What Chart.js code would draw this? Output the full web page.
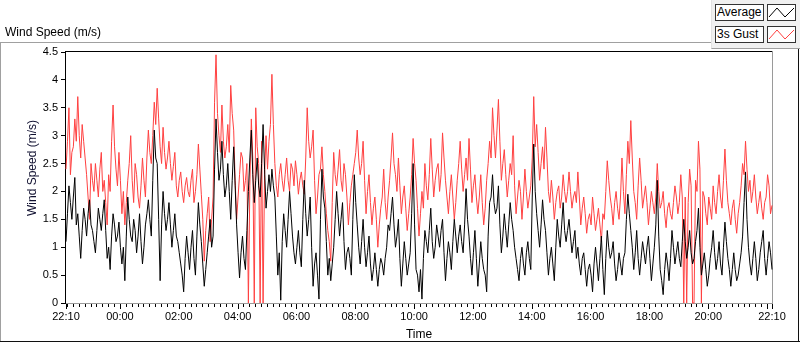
<!DOCTYPE html>
<html>
<head>
<meta charset="utf-8">
<script src="https://cdn.jsdelivr.net/npm/chart.js@4.4.1/dist/chart.umd.min.js"></script>
<style>
body { margin: 0; background: #fff; }
.wrap { position: relative; width: 800px; height: 342px; overflow: hidden; font-family: "Liberation Sans", Arial, sans-serif; color: #000; }
canvas { position: absolute; left: 0; top: 0; }
.title { position: absolute; left: 5px; top: 25px; font-size: 12px; line-height: 14px; white-space: nowrap; }
.panel { position: absolute; left: 711px; top: 0; width: 89px; height: 48px; background: #f0f0f0; border-left: 1px solid #e2e2e2; border-bottom: 1px solid #a0a0a0; }
.lab { position: absolute; left: 715px; width: 46px; height: 15px; border: 1px solid #333; background: #fff; font-size: 12px; line-height: 15px; padding-left: 1px; box-sizing: content-box; white-space: nowrap; }
.ico { position: absolute; left: 767px; width: 27px; height: 15px; border: 1px solid #333; background: #fff; }
.ico svg { display: block; }
</style>
</head>
<body>
<div class="wrap">
  <canvas id="chart" width="800" height="342"></canvas>
  <div class="title">Wind Speed (m/s)</div>
  <div class="panel"></div>
  <div class="lab" style="top:4px">Average</div>
  <div class="ico" style="top:4px"><svg width="27" height="15"><polyline points="1,12 9,3 17,12 26,3" fill="none" stroke="#000" stroke-width="1"/></svg></div>
  <div class="lab" style="top:26px">3s Gust</div>
  <div class="ico" style="top:26px"><svg width="27" height="15"><polyline points="1,12 9,3 17,12 26,3" fill="none" stroke="#ff4040" stroke-width="1"/></svg></div>
</div>
<script>
// one sample every 3 minutes, starting 22:10 (one row = 1 hour)
const stepMinutes = 3;

const avgSpeed = [
  1.1, 1.6, 2.1, 1.8, 1.5, 1.9, 2.25, 1.4, 1.6, 1.2, 0.8, 1.3, 1.7, 1.5, 1.2, 1.6, 1.85, 1.4, 1.3, 1.1,
  0.9, 1.3, 1.7, 1.5, 1.3, 1.6, 1.85, 1.3, 0.8, 1.0, 0.6, 1.2, 1.6, 1.4, 1.1, 1.2, 1.45, 1.0, 0.7, 1.0,
  0.4, 1.2, 1.9, 1.5, 1.2, 1.1, 1.5, 1.3, 0.9, 1.2, 1.6, 1.1, 0.7, 1.0, 1.4, 1.6, 1.85, 1.5, 1.2, 2.2,
  3.1, 2.6, 2.5, 1.5, 0.4, 1.4, 2.0, 1.6, 1.3, 1.5, 1.8, 1.4, 1.0, 1.3, 1.6, 1.2, 1.1, 0.9, 0.7, 0.5,
  0.2, 0.8, 1.2, 0.9, 0.6, 1.0, 1.3, 0.8, 0.5, 1.2, 1.8, 1.4, 1.1, 0.7, 0.3, 0.6, 0.9, 1.2, 1.5, 1.0,
  1.2, 2.4, 3.3, 2.7, 2.2, 2.4, 2.9, 2.3, 1.9, 2.1, 2.5, 2.0, 1.5, 2.2, 2.8, 2.1, 1.4, 0.9, 0.45, 0.9,
  1.2, 0.8, 0.6, 1.3, 2.0, 2.6, 3.1, 2.3, 1.8, 2.2, 2.6, 2.1, 1.9, 2.5, 3.2, 2.4, 1.7, 2.0, 2.3, 2.0,
  2.4, 2.1, 1.9, 1.2, 0.5, 0.9, 0.05, 1.1, 1.6, 1.3, 1.0, 1.5, 2.0, 1.6, 1.2, 0.9, 0.7, 1.0, 1.3, 0.9,
  0.65, 1.5, 2.2, 1.6, 1.2, 1.5, 1.9, 1.0, 0.3, 0.7, 0.9, 0.5, 0.07, 1.5, 2.4, 1.9, 1.7, 1.1, 0.5, 0.8,
  0.4, 0.7, 1.0, 1.5, 2.0, 1.6, 1.2, 1.5, 1.8, 1.1, 0.6, 0.9, 1.0, 0.8, 0.5, 1.5, 2.3, 1.8, 1.4, 1.0,
  0.7, 1.1, 1.5, 1.0, 0.65, 0.9, 1.2, 0.7, 0.4, 0.6, 0.9, 0.6, 0.3, 0.6, 0.8, 0.7, 0.5, 0.8, 1.0, 1.4,
  1.3, 1.6, 1.9, 1.4, 1.0, 1.2, 1.5, 0.8, 0.3, 0.7, 1.1, 0.8, 0.5, 0.7, 0.9, 1.6, 2.5, 1.4, 0.6, 0.5,
  0.2, 0.6, 0.07, 0.8, 1.3, 1.1, 0.9, 1.3, 1.7, 1.1, 0.8, 1.0, 1.4, 1.2, 1.0, 1.3, 1.5, 0.9, 0.4, 0.8,
  1.1, 0.9, 0.6, 1.1, 1.5, 1.2, 0.9, 1.2, 1.4, 1.1, 0.9, 1.4, 2.05, 1.5, 1.2, 0.8, 0.5, 0.9, 1.3, 0.8,
  0.3, 0.7, 1.1, 0.8, 0.6, 0.5, 0.2, 1.2, 1.8, 1.9, 2.3, 1.8, 1.6, 1.7, 2.1, 1.4, 0.9, 1.2, 1.6, 1.3,
  1.0, 1.4, 1.8, 1.5, 1.3, 1.0, 0.8, 0.6, 0.4, 0.8, 1.0, 0.7, 0.5, 0.9, 1.1, 0.8, 0.6, 1.9, 2.85, 2.0,
  1.6, 1.3, 1.0, 1.4, 1.85, 1.5, 1.3, 0.9, 0.5, 0.8, 1.0, 0.7, 0.4, 1.0, 1.5, 1.2, 1.0, 1.4, 1.8, 1.3,
  1.1, 1.3, 1.5, 1.2, 0.9, 1.1, 1.3, 0.8, 1.0, 0.7, 0.5, 0.8, 0.9, 0.6, 0.3, 0.6, 0.7, 0.5, 0.2, 0.7,
  1.0, 0.7, 0.4, 0.8, 1.2, 0.6, 0.15, 0.8, 1.3, 1.0, 0.8, 0.9, 1.1, 0.7, 0.4, 0.6, 0.9, 0.7, 0.5, 0.8,
  0.9, 1.5, 1.95, 1.6, 1.3, 1.0, 0.6, 0.9, 1.3, 0.8, 0.5, 0.8, 1.1, 0.9, 0.7, 1.0, 1.2, 0.8, 0.4, 0.7,
  1.0, 1.4, 2.2, 1.2, 0.6, 0.4, 0.15, 0.6, 0.9, 0.7, 0.4, 0.8, 1.3, 1.0, 0.7, 0.9, 1.1, 0.8, 0.65, 1.1,
  1.5, 1.1, 0.8, 1.0, 1.3, 0.9, 0.7, 0.8, 1.1, 1.3, 1.7, 1.0, 0.5, 0.7, 0.9, 0.6, 0.3, 0.5, 0.8, 1.0,
  1.3, 0.9, 0.6, 0.8, 1.1, 0.7, 0.5, 1.0, 1.45, 1.1, 0.8, 0.6, 0.3, 0.6, 0.9, 0.6, 0.4, 0.5, 0.7, 0.9,
  1.2, 1.8, 2.35, 1.5, 1.0, 0.7, 0.5, 0.8, 1.1, 0.8, 0.4, 0.6, 0.9, 1.1, 1.3, 0.8, 0.5, 0.8, 1.1, 0.9, 0.6
];

const gustSpeed = [
  2.4, 2.9, 3.5, 2.3, 2.7, 2.8, 3.3, 2.9, 3.7, 3.0, 2.6, 3.2, 2.9, 2.6, 2.3, 1.9, 1.5, 2.5, 2.2, 2.0,
  2.5, 2.2, 1.9, 2.4, 2.7, 2.0, 2.2, 1.8, 1.4, 2.3, 2.0, 2.9, 3.55, 2.8, 2.4, 2.1, 2.7, 2.2, 1.6, 2.0,
  1.4, 1.8, 2.2, 2.5, 3.0, 2.2, 1.8, 2.5, 2.3, 1.9, 1.7, 2.1, 2.6, 2.2, 1.9, 2.6, 3.1, 2.7, 2.5, 3.0,
  3.6, 3.2, 3.85, 3.3, 2.8, 2.5, 3.15, 2.7, 2.4, 2.6, 2.9, 2.5, 2.2, 2.45, 2.7, 2.1, 1.9, 2.2, 2.35, 2.0,
  1.8, 2.1, 2.25, 2.0, 1.9, 2.2, 2.4, 1.8, 2.0, 2.3, 2.85, 2.4, 1.95, 1.5, 0.75, 1.3, 1.6, 1.9, 1.1, 1.5,
  1.9, 3.6, 4.45, 3.4, 3.0, 2.7, 3.55, 2.9, 2.6, 2.8, 3.2, 2.7, 3.9, 3.4, 3.1, 2.2, 1.5, 1.9, 2.3, 2.7,
  2.6, 2.0, 2.2, 2.5, 0, 2.1, 3.3, 2.6, 0, 3.5, 2.8, 2.5, 0, 2.9, 0, 2.3, 3.0, 2.4, 2.9, 3.2,
  4.1, 3.2, 2.5, 2.1, 1.9, 2.3, 2.5, 2.2, 2.0, 2.3, 2.6, 2.2, 2.0, 2.5, 2.4, 2.1, 2.55, 2.3, 1.95, 2.2,
  2.35, 2.1, 1.95, 2.6, 3.5, 2.9, 2.6, 2.8, 3.1, 2.2, 1.6, 1.9, 2.3, 2.4, 2.8, 2.3, 2.0, 1.6, 1.3, 1.1,
  0.75, 1.8, 2.7, 2.3, 2.1, 2.4, 2.75, 2.2, 2.0, 2.5, 2.3, 1.9, 1.4, 1.8, 2.1, 2.3, 2.5, 2.7, 3.1, 2.6,
  2.3, 2.5, 2.9, 2.2, 1.6, 2.0, 2.3, 1.8, 1.4, 1.7, 1.9, 1.5, 1.0, 1.4, 1.7, 1.9, 2.4, 1.8, 1.5, 1.9,
  2.2, 2.6, 3.05, 2.5, 2.3, 2.0, 2.6, 2.1, 1.6, 1.9, 2.1, 1.7, 1.3, 1.6, 1.9, 2.3, 2.95, 2.5, 2.2, 1.7,
  1.2, 1.6, 2.0, 1.7, 2.5, 2.1, 1.85, 2.3, 2.95, 2.4, 1.9, 2.2, 2.4, 2.5, 2.0, 2.3, 3.05, 2.6, 2.2, 1.9,
  1.6, 2.0, 2.3, 1.9, 1.5, 1.8, 2.2, 2.5, 2.9, 2.4, 2.0, 2.3, 2.6, 2.2, 2.95, 2.4, 1.8, 2.1, 2.3, 1.9,
  1.6, 1.9, 2.3, 1.8, 1.4, 1.7, 2.2, 2.5, 2.9, 2.6, 3.5, 3.0, 2.6, 3.1, 3.65, 2.9, 2.2, 2.5, 2.75, 2.3,
  1.9, 2.2, 2.5, 2.3, 3.0, 2.1, 1.6, 1.9, 2.2, 2.0, 1.5, 1.9, 2.4, 2.0, 1.7, 1.9, 2.1, 2.6, 3.7, 2.8,
  3.2, 2.7, 2.2, 2.5, 2.8, 2.4, 3.15, 2.6, 2.0, 1.8, 2.2, 1.9, 1.5, 1.8, 2.0, 2.1, 1.7, 1.9, 2.3, 2.0,
  1.8, 2.0, 2.35, 2.0, 1.7, 1.9, 2.0, 1.8, 2.35, 1.9, 1.4, 1.7, 1.9, 1.6, 1.25, 1.5, 1.6, 1.4, 1.9, 1.6,
  1.3, 1.5, 1.7, 1.4, 1.1, 1.6, 1.5, 2.0, 2.55, 2.2, 1.9, 1.7, 1.4, 1.8, 2.0, 1.7, 1.5, 1.9, 2.6, 2.0,
  1.6, 2.3, 2.9, 2.5, 3.27, 2.6, 2.0, 1.8, 1.5, 2.1, 2.6, 2.2, 1.7, 1.9, 2.1, 1.8, 1.4, 1.7, 2.0, 1.8,
  1.6, 1.9, 2.5, 2.0, 1.7, 1.8, 2.0, 1.6, 1.35, 1.7, 1.8, 1.6, 1.5, 1.8, 2.1, 1.9, 1.6, 1.8, 2.3, 1.9,
  0, 1.9, 0, 1.8, 2.4, 2.1, 0, 0, 2.2, 2.0, 2.9, 2.4, 0, 2.0, 1.9, 1.6, 1.4, 1.9, 1.7, 1.5,
  2.1, 1.8, 1.6, 2.0, 2.3, 1.9, 1.7, 2.2, 2.76, 2.2, 1.8, 1.6, 1.4, 1.7, 1.85, 1.5, 1.25, 1.6, 1.8, 2.1,
  2.5, 2.3, 2.9, 2.4, 2.0, 2.2, 1.8, 2.0, 2.3, 1.9, 1.6, 1.8, 2.0, 1.7, 1.5, 1.8, 1.9, 2.3, 2.1, 1.6, 1.75
];

// minutes after 22:10
const xTickMinutes = [0, 110, 230, 350, 470, 590, 710, 830, 950, 1070, 1190, 1310, 1440];
const xTickLabels = ['22:10', '00:00', '02:00', '04:00', '06:00', '08:00', '10:00', '12:00', '14:00', '16:00', '18:00', '20:00', '22:10'];
const yTicks = [0, 0.5, 1, 1.5, 2, 2.5, 3, 3.5, 4, 4.5];

const font = { family: '"Liberation Sans", Arial, sans-serif', size: 11 };
Chart.defaults.font.family = font.family;

function toPoints(arr) {
	return arr.map((v, i) => ({ x: i * stepMinutes, y: v }));
}

const frame = {
	id: 'frame',
	beforeDatasetsDraw(chart) {
		const c = chart.ctx;
		const a = chart.chartArea;
		c.save();
		// outer frame
		c.fillStyle = '#a0a0a0';
		c.fillRect(0, 42, 712, 1);
		c.fillRect(0, 42, 1, 300);
		c.fillStyle = '#101010';
		c.fillRect(0, 341, 800, 1);
		c.fillRect(798, 42, 1, 300);
		// plot box
		c.fillStyle = '#000';
		c.fillRect(a.left - 1, a.top - 1, a.right - a.left + 2, 1);
		c.fillRect(a.left - 1, a.top - 1, 1, a.bottom - a.top + 1);
		c.fillStyle = '#9a9a9a';
		c.fillRect(a.right, a.top - 1, 1, a.bottom - a.top + 1);
		c.fillRect(a.left, a.bottom, a.right - a.left + 1, 1);
		// x tick marks: every 12 min of the clock, long ones on even hours
		const xs = chart.scales.x;
		c.fillStyle = '#000';
		for (let m = 0; m <= 1440; m++) {
			const clock = (22 * 60 + 10 + m) % 1440;
			const edge = m === 0 || m === 1440;
			if (clock % 12 !== 0 && !edge) continue;
			const px = Math.round(xs.getPixelForValue(m));
			const len = (clock % 120 === 0 || edge) ? 5 : 3;
			c.fillRect(px, a.bottom + 1, 1, len);
		}
		// axis titles
		c.font = '12px ' + font.family;
		c.fillStyle = '#000';
		c.textAlign = 'center';
		c.textBaseline = 'alphabetic';
		c.fillText('Time', (a.left + a.right) / 2, 338);
		c.translate(36, 168);
		c.rotate(-Math.PI / 2);
		c.fillStyle = '#101030';
		c.fillText('Wind Speed (m/s)', 0, 0);
		c.restore();
	}
};

const ctx = document.getElementById('chart');
const chart = new Chart(ctx, {
	type: 'line',
	data: {
		datasets: [
			{
				label: 'Average',
				data: toPoints(avgSpeed),
				borderColor: '#000000',
				borderWidth: 1,
				order: 1,
				clip: false
			},
			{
				label: '3s Gust',
				data: toPoints(gustSpeed),
				borderColor: '#ff4040',
				borderWidth: 1,
				order: 2,
				clip: false
			}
		]
	},
	options: {
		responsive: false,
		animation: false,
		events: [],
		layout: { padding: { top: 52, right: 28, left: 0, bottom: 0 } },
		elements: { point: { radius: 0 }, line: { tension: 0 } },
		plugins: { legend: { display: false }, tooltip: { enabled: false }, title: { display: false } },
		scales: {
			x: {
				type: 'linear',
				min: 0,
				max: 1440,
				afterBuildTicks: s => { s.ticks = xTickMinutes.map(v => ({ value: v })); },
				afterFit: s => { s.height = 39; },
				grid: { display: false, drawTicks: true, tickLength: 4 },
				border: { display: false },
				ticks: {
					autoSkip: false,
					maxRotation: 0,
					padding: 3,
					color: '#000',
					font: font,
					callback: (v, i) => xTickLabels[i]
				}
			},
			y: {
				min: 0,
				max: 4.5,
				afterBuildTicks: s => { s.ticks = yTicks.map(v => ({ value: v })); },
				afterFit: s => { s.width = 66; },
				grid: { drawOnChartArea: false, drawTicks: true, tickLength: 5, color: '#000', tickColor: '#000' },
				border: { display: false },
				ticks: {
					padding: 3,
					color: '#000',
					font: font,
					callback: v => String(v)
				}
			}
		}
	},
	plugins: [frame]
});
</script>
</body>
</html>
